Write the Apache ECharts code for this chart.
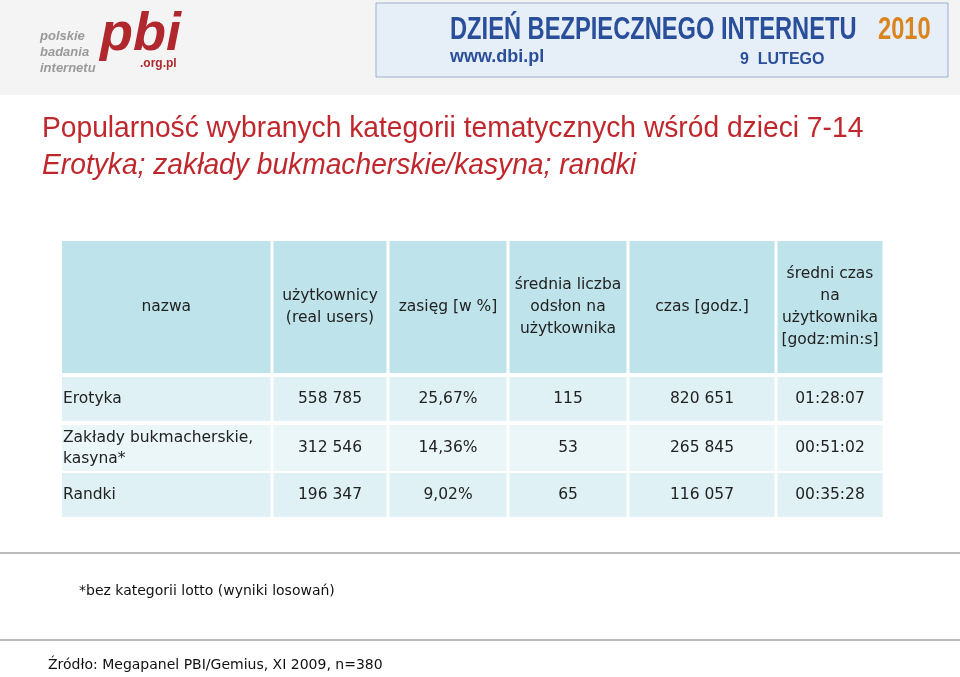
<!DOCTYPE html><html><head><meta charset="utf-8">
<script src="https://cdn.jsdelivr.net/npm/echarts@6/dist/echarts.min.js"></script>
<style>html,body{margin:0;background:#fff}#c{width:960px;height:677px}</style></head><body><div id="c"></div>
<script>
const headers = ['nazwa','użytkownicy\n(real users)','zasięg [w %]','średnia liczba\nodsłon na\nużytkownika','czas [godz.]','średni czas\nna\nużytkownika\n[godz:min:s]'];
const categories = ['Erotyka','Zakłady bukmacherskie,\nkasyna*','Randki'];
const users = ['558 785','312 546','196 347'];
const reach = ['25,67%','14,36%','9,02%'];
const pageviews = ['115','53','65'];
const timeHours = ['820 651','265 845','116 057'];
const avgTime = ['01:28:07','00:51:02','00:35:28'];

const colEdges = [62,272,388,508,628,776,884];
const rowEdges = [[241,373],[377,421],[425,471],[473,517]];
const rowFill = ['#bfe3ea','#dff1f4','#eaf6f8','#dff1f4'];

const cells = [];
headers.forEach((h,c)=>cells.push([c,0,h]));
categories.forEach((cat,r)=>{
  [cat,users[r],reach[r],pageviews[r],timeHours[r],avgTime[r]].forEach((v,c)=>cells.push([c,r+1,v]));
});
const chart = echarts.init(document.getElementById('c'));
const cond = (text,x,y,font,fill,sx)=>({type:'text',x:x,y:y,scaleX:sx||0.8,style:{text:text,x:0,y:0,font:font,fill:fill}});
chart.setOption({
  animation:false,
  grid:{left:0,right:0,top:0,bottom:0},
  xAxis:{type:'value',min:0,max:960,show:false},
  yAxis:{type:'value',min:0,max:677,inverse:true,show:false},
  series:[{type:'custom',data:cells,renderItem:(p,api)=>{
    const c=api.value(0),r=api.value(1),t=cells[p.dataIndex][2];
    const x0=colEdges[c]+(c?1.5:0),x1=colEdges[c+1]-1.5;
    const [y0,y1]=rowEdges[r];
    const a=api.coord([x0,y0]),b=api.coord([x1,y1]);
    const left=(r>0&&c===0);
    return {type:'group',children:[
      {type:'rect',shape:{x:a[0],y:a[1],width:b[0]-a[0],height:b[1]-a[1]},style:{fill:rowFill[r]}},
      {type:'text',style:{text:t,x:left?a[0]+1:(a[0]+b[0])/2,y:(a[1]+b[1])/2,align:left?'left':'center',verticalAlign:'middle',font:'15.5px "DejaVu Sans"',fill:'#222',lineHeight:r?21:22}}
    ]};
  }}],
  graphic:[
    {type:'rect',shape:{x:0,y:0,width:960,height:95},style:{fill:'#f4f4f4'}},
    {type:'text',style:{text:'polskie\nbadania\ninternetu',x:40,y:28,font:'bold italic 13px "Liberation Sans"',fill:'#9a9a9a',lineHeight:16}},
    {type:'text',style:{text:'pbi',x:100,y:8,font:'bold italic 54px "Liberation Sans"',fill:'#b0272d'}},
    {type:'text',style:{text:'.org.pl',x:140,y:58,font:'bold 12px "Liberation Sans"',fill:'#b0272d'}},
    {type:'rect',shape:{x:376,y:3,width:572,height:74},style:{fill:'#e6eef8',stroke:'#9ab0cc',lineWidth:1}},
    cond('DZIEŃ BEZPIECZNEGO INTERNETU',450,14,'bold 32px "Liberation Sans"','#2a4f9a',0.74),
    cond('2010',878,14,'bold 32px "Liberation Sans"','#d9841e',0.74),
    {type:'text',style:{text:'www.dbi.pl',x:450,y:48,font:'bold 18px "Liberation Sans"',fill:'#2a4f9a'}},
    {type:'text',style:{text:'9  LUTEGO',x:740,y:52,font:'bold 16px "Liberation Sans"',fill:'#2a4f9a'}},
    cond('Popularność wybranych kategorii tematycznych wśród dzieci 7-14',42,114,'30px "Liberation Sans"','#c0272d',0.94),
    cond('Erotyka; zakłady bukmacherskie/kasyna; randki',42,151,'italic 30px "Liberation Sans"','#c0272d',0.94),
    {type:'line',shape:{x1:0,y1:553,x2:960,y2:553},style:{stroke:'#bbb',lineWidth:2}},
    {type:'line',shape:{x1:0,y1:640,x2:960,y2:640},style:{stroke:'#bbb',lineWidth:2}},
    {type:'text',style:{text:'*bez kategorii lotto (wyniki losowań)',x:79,y:584,font:'14px "DejaVu Sans"',fill:'#111'}},
    {type:'text',style:{text:'Źródło: Megapanel PBI/Gemius, XI 2009, n=380',x:48,y:658,font:'14px "DejaVu Sans"',fill:'#111'}}
  ]
});
</script></body></html>
